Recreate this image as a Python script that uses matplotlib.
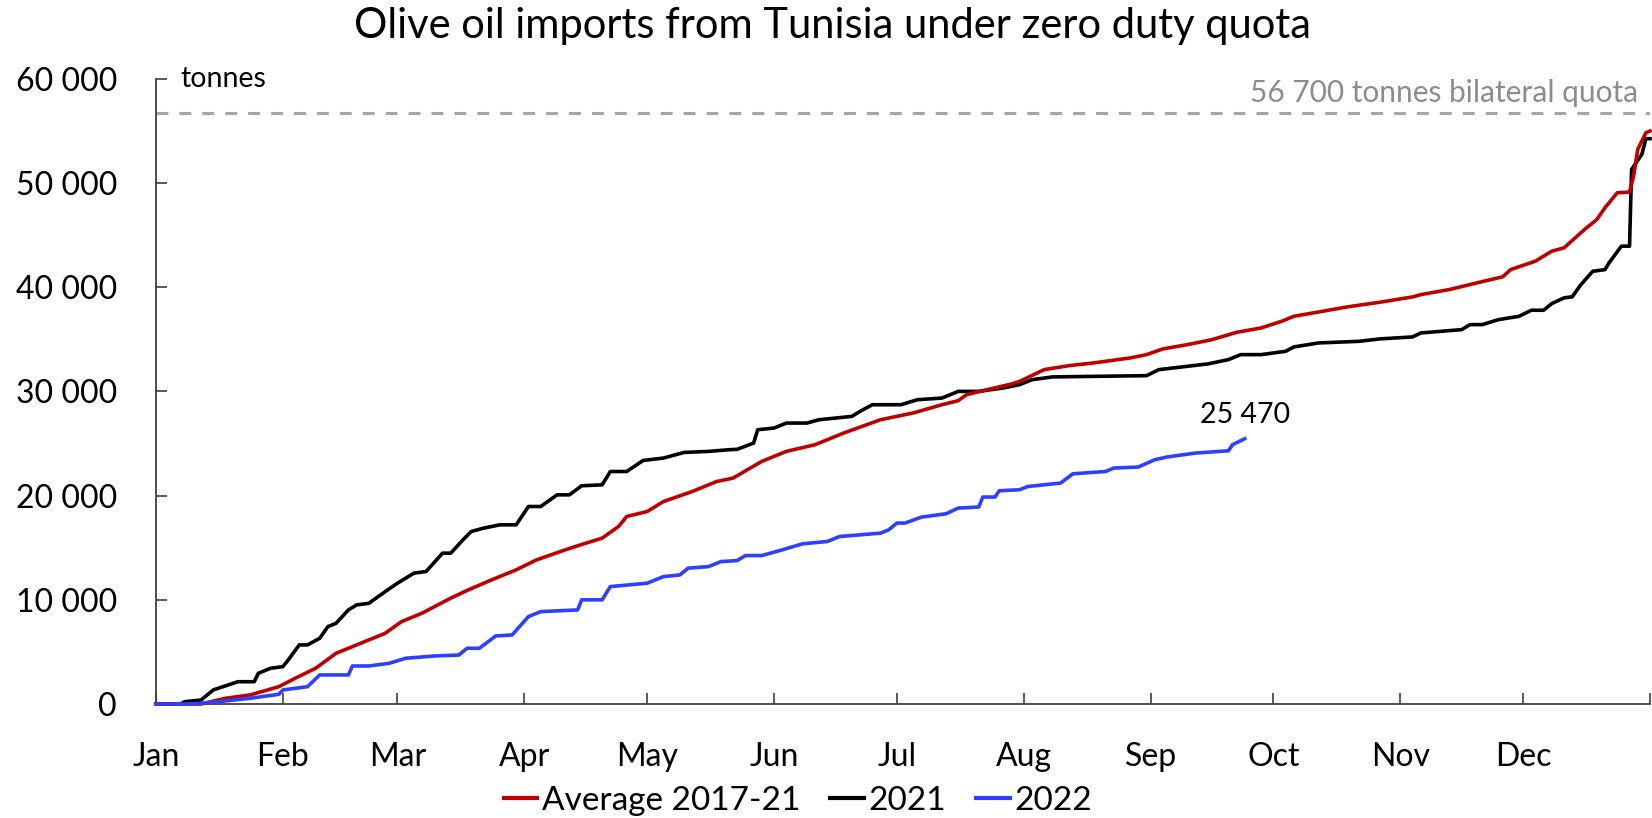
import matplotlib
matplotlib.use('Agg')
import matplotlib.pyplot as plt
from matplotlib.ticker import FuncFormatter
from matplotlib.lines import Line2D

plt.rcParams['font.family'] = ['Lato', 'DejaVu Sans']

# ---- data (day of year, cumulative tonnes) ----
avg_days = [0, 11, 17, 23, 30, 34, 39, 44, 51, 56, 60, 65, 72, 76, 82, 88, 93, 100, 105, 109,
            113, 115, 120, 124, 131, 137, 141, 148, 154, 161, 168, 177, 185, 192, 196, 198,
            203, 209, 211, 217, 223, 229, 238, 242, 246, 252, 258, 264, 270, 275, 278, 286,
            291, 299, 307, 309, 316, 322, 329, 331, 337, 341, 344, 349, 352, 354, 357, 360,
            361, 362, 364, 365]
avg_vals = [0, 0, 550, 870, 1660, 2470, 3430, 4870, 5990, 6790, 7910, 8720, 10160, 10900,
            11920, 12880, 13840, 14800, 15440, 15920, 17040, 18000, 18480, 19440, 20400,
            21360, 21690, 23290, 24250, 24890, 26010, 27290, 27940, 28730, 29120, 29690,
            30170, 30720, 30970, 32100, 32480, 32740, 33220, 33540, 34090, 34500, 34980,
            35680, 36100, 36740, 37220, 37770, 38120, 38570, 39080, 39300, 39790, 40360,
            41010, 41710, 42510, 43470, 43790, 45550, 46510, 47640, 49080, 49140, 50680,
            53240, 54840, 55000]

y2021_days = [0, 6, 7, 11, 14, 20, 24, 25, 28, 31, 32, 35, 37, 40, 42, 44, 47, 49, 52, 56,
              59, 63, 66, 70, 72, 75, 77, 80, 84, 88, 91, 94, 98, 101, 104, 109, 111, 115,
              119, 124, 129, 135, 140, 142, 146, 147, 151, 154, 159, 162, 170, 172, 175, 182,
              186, 192, 196, 201, 207, 211, 214, 219, 242, 245, 252, 257, 262, 265, 270,
              276, 278, 284, 294, 299, 307, 309, 319, 321, 324, 328, 333, 336, 339, 341,
              344, 346, 348, 351, 354, 355, 358, 360, 360.5, 363, 364, 365]
y2021_vals = [0, 0, 220, 380, 1350, 2140, 2140, 2950, 3430, 3590, 4070, 5670, 5670, 6310,
              7430, 7750, 9030, 9510, 9670, 10790, 11600, 12560, 12720, 14480, 14480, 15760,
              16560, 16880, 17200, 17200, 18960, 18960, 20080, 20080, 20950, 21040, 22320,
              22320, 23380, 23610, 24150, 24250, 24410, 24450, 25050, 26330, 26490, 26970,
              26970, 27290, 27610, 28090, 28730, 28730, 29210, 29370, 30010, 30010, 30340,
              30660, 31130, 31400, 31520, 32100, 32420, 32650, 33060, 33540, 33540, 33860,
              34280, 34660, 34820, 35050, 35240, 35620, 35940, 36420, 36420, 36900, 37220,
              37800, 37800, 38440, 38990, 39090, 40200, 41540, 41700, 42350, 43950, 43950,
              51320, 52760, 54270, 54270]

y2022_days = [0, 8, 13, 23, 30, 31, 37, 40, 47, 48, 52, 57, 61, 68, 74, 76, 79, 83, 87, 91,
              94, 103, 104, 109, 111, 120, 124, 128, 130, 135, 138, 142, 144, 148, 153, 158,
              164, 167, 172, 177, 179, 181, 183, 187, 193, 196, 201, 202, 205, 206, 211, 213,
              221, 224, 232, 234, 240, 244, 247, 254, 262, 263, 266]
y2022_vals = [0, 0, 130, 550, 930, 1350, 1660, 2790, 2790, 3650, 3650, 3910, 4390, 4610,
              4700, 5350, 5350, 6530, 6630, 8390, 8870, 9030, 10000, 10000, 11270, 11600,
              12230, 12390, 13040, 13190, 13670, 13770, 14250, 14250, 14800, 15380, 15600,
              16080, 16240, 16400, 16720, 17370, 17370, 17940, 18260, 18810, 18910, 19870,
              19870, 20470, 20570, 20880, 21210, 22100, 22320, 22650, 22750, 23450, 23710,
              24090, 24310, 24890, 25470]

month_starts = [0, 31, 59, 90, 120, 151, 181, 212, 243, 273, 304, 334, 365]
month_labels = ['Jan', 'Feb', 'Mar', 'Apr', 'May', 'Jun', 'Jul', 'Aug', 'Sep', 'Oct', 'Nov', 'Dec']
y_ticks = [0, 10000, 20000, 30000, 40000, 50000, 60000]
quota = 56700
last_2022 = 25470
series_names = ['Average 2017-21', '2021', '2022']

# ---- figure ----
W, H = 1652, 818
fig = plt.figure(figsize=(W / 100, H / 100), dpi=100)
ax = fig.add_axes([156 / W, 1 - 704 / H, (1650 - 156) / W, (704 - 79) / H])

RED, BLACK, BLUE = '#C00000', '#000000', '#2F3FFF'
lw = 2.6
ax.axhline(quota, color='#A6A6A6', lw=2.2, ls=(0, (3.9, 3.6)), zorder=1)
ax.plot(avg_days, avg_vals, color=RED, lw=lw, zorder=3, clip_on=False)
ax.plot(y2021_days, y2021_vals, color=BLACK, lw=lw, zorder=2, clip_on=False)
ax.plot(y2022_days, y2022_vals, color=BLUE, lw=lw, zorder=4, clip_on=False)

ax.set_xlim(0, 365)
ax.set_ylim(0, 60000)

for s in ['top', 'right']:
    ax.spines[s].set_visible(False)
for s in ['left', 'bottom']:
    ax.spines[s].set_color('#404040')
    ax.spines[s].set_linewidth(1.3)

ax.set_xticks(month_starts)
ax.set_xticklabels(month_labels + [''])
ax.set_yticks(y_ticks)
ax.yaxis.set_major_formatter(FuncFormatter(lambda v, p: f"{int(v):,}".replace(',', ' ')))
ax.tick_params(axis='both', direction='in', length=8, width=1.2, color='#404040',
               labelsize=23, labelcolor='black')
ax.tick_params(axis='x', pad=27)
ax.tick_params(axis='y', pad=28)

ax.text(6, 60000, 'tonnes', fontsize=20.5, va='center', ha='left')
ax.text(362, quota + 600, '56 700 tonnes bilateral quota', fontsize=21.5, color='#8C8C8C',
        ha='right', va='bottom')
ax.text(266, last_2022 + 1000, f"{last_2022:,}".replace(',', ' '), fontsize=20.5,
        ha='center', va='bottom')

fig.text(0.504, 1 - 26 / H, 'Olive oil imports from Tunisia under zero duty quota',
         fontsize=30, ha='center', va='center')

handles = [Line2D([], [], color=c, lw=3) for c in (RED, BLACK, BLUE)]
fig.legend(handles, series_names, loc='center', bbox_to_anchor=(798 / W, 1 - 801 / H),
           ncol=3, frameon=False, fontsize=24, handlelength=1.0, handletextpad=0.15,
           columnspacing=0.9, borderaxespad=0)

fig.savefig('out.png', dpi=100)
